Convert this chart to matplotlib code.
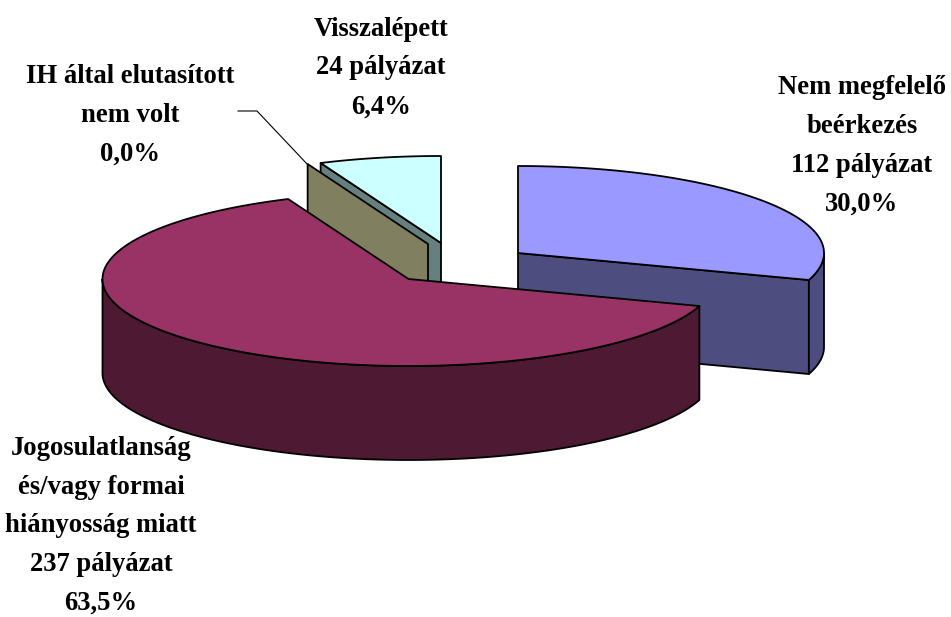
import numpy as np
import matplotlib
matplotlib.use("Agg")
import matplotlib.pyplot as plt
from matplotlib.patches import Polygon

plt.rcParams["font.family"] = ["Liberation Serif", "DejaVu Serif"]

# Data
values = [112, 237, 0, 24]  # clockwise from 12 o'clock
labels = ["Nem megfelelő\nbeérkezés\n112 pályázat\n30,0%",
          "Jogosulatlanság\nés/vagy formai\nhiányosság miatt\n237 pályázat\n63,5%",
          "IH által elutasított\nnem volt\n0,0%",
          "Visszalépett\n24 pályázat\n6,4%"]
top_colors = ["#9999FF", "#993366", "#808060", "#CCFFFF"]
side_colors = ["#4D4D80", "#4D1933", "#808060", "#668080"]

# pie geometry, pixels of the picture
centers = [(518, 253), (408.5, 279), (428, 244), (441, 243)]
rx = 306
ry = 87
depth = 94
label_pos = [(862, 146), (101, 526), (130, 115), (381, 68)]

shares = np.array(values) / sum(values) * 360
ends = np.cumsum(shares)
starts = ends - shares


def rim(center, a0, a1, n=200):
    a = np.radians(np.linspace(a0, a1, n))
    return np.column_stack([center[0] + rx * np.sin(a), center[1] - ry * np.cos(a)])


def down(pts):
    return pts + np.array([0, depth])


def add_poly(ax, pts, color, z):
    ax.add_patch(Polygon(pts, closed=True, facecolor=color, edgecolor="black",
                         linewidth=1.3, joinstyle="round", zorder=z))


fig = plt.figure(figsize=(9.51, 6.17), dpi=100)
ax = fig.add_axes([0, 0, 1, 1])
ax.set_xlim(0, 951)
ax.set_ylim(617, 0)
ax.axis("off")

# back to front: blue, cyan, olive, red
z = 1
for i in [0, 3, 2, 1]:
    c = np.array(centers[i], dtype=float)
    a0, a1 = starts[i], ends[i]

    if values[i] == 0:
        # empty slice only shows its cut face
        p = rim(c, a0, a0, 2)[0]
        add_poly(ax, [p, c, down(c), down(p)], top_colors[i], z)
        z += 1
        continue

    if i == 3:
        # cut face on the left side is visible
        p = rim(c, a0, a0, 2)[0]
        add_poly(ax, [p, c, down(c), down(p)], side_colors[i], z)
        z += 1

    if i == 0:
        # cut face at the end of the slice
        p = rim(c, a1, a1, 2)[0]
        add_poly(ax, [c, p, down(p), down(c)], side_colors[i], z)
        z += 1

    # outer wall, only the part facing the viewer
    w0, w1 = max(a0, 90), min(a1, 270)
    if w0 < w1:
        r = rim(c, w0, w1)
        add_poly(ax, np.vstack([r, down(r)[::-1]]), side_colors[i], z)
        z += 1

    add_poly(ax, np.vstack([c, rim(c, a0, a1)]), top_colors[i], z)
    z += 1

# leader of the empty slice
ax.plot([238, 257, 308], [111, 111, 165], color="black", lw=0.8, zorder=z)

for lab, (x, y) in zip(labels, label_pos):
    ax.text(x, y, lab, ha="center", va="center", fontsize=19.2, fontweight="bold",
            linespacing=1.72, color="black")

fig.savefig("out.png", dpi=100, facecolor="white")
